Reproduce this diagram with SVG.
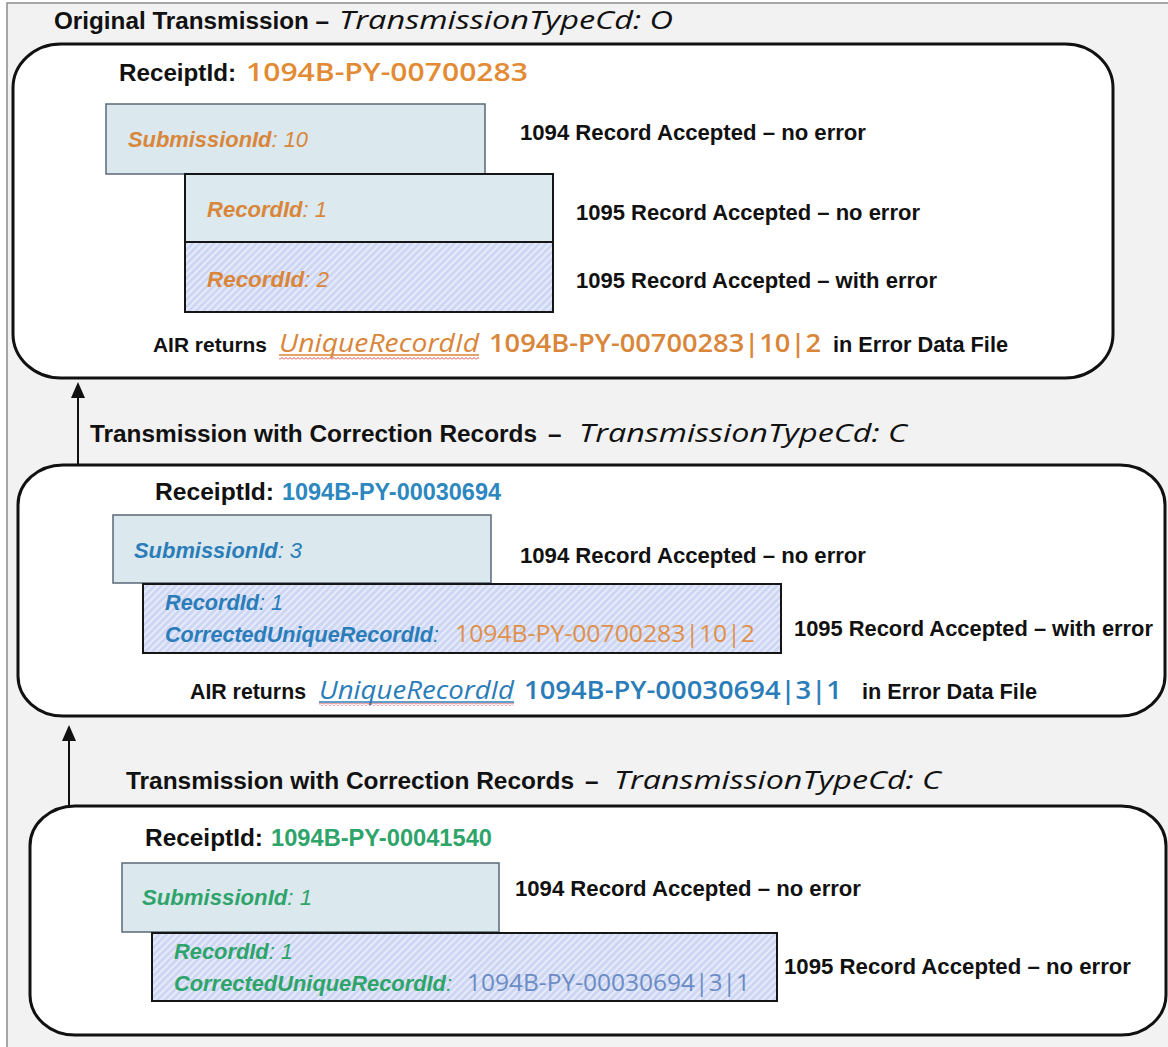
<svg xmlns="http://www.w3.org/2000/svg" width="1168" height="1047" viewBox="0 0 1168 1047">
<defs>
<style>
.b{font-family:"Liberation Sans",Arial,sans-serif;font-weight:bold;fill:#111}
.t{font-size:24.2px}
.s{font-size:22px}
.it{font-family:"Open Sans","Liberation Sans",sans-serif;font-style:italic;font-weight:500;fill:#111;font-size:26px}
.bi{font-family:"Liberation Sans",Arial,sans-serif;font-style:italic;font-weight:bold;font-size:21.9px}
.ri{font-family:"Liberation Sans",Arial,sans-serif;font-style:italic;font-weight:normal}
.num{font-family:"Open Sans","Liberation Sans",sans-serif;font-weight:600;font-size:26px}
.numr{font-family:"Open Sans","Liberation Sans",sans-serif;font-weight:normal;font-size:24px}
.uid{font-family:"Open Sans","Liberation Sans",sans-serif;font-style:italic;font-weight:normal;font-size:25px}
.big{fill:#fff;stroke:#111;stroke-width:3}
.sub{fill:#dbe8ee;stroke:#5a6878;stroke-width:1.5}
.rec{fill:#dce9ee;stroke:#151515;stroke-width:2}
.hat{fill:url(#hatch);stroke:#151515;stroke-width:2}
.or{fill:#d9863a}
.bl{fill:#2a7db8}
.gr{fill:#2ea46a}
.sb{fill:#6b8cc4}
.conn{fill:none;stroke:#111;stroke-width:2}
</style>
<pattern id="hatch" patternUnits="userSpaceOnUse" width="5" height="5" patternTransform="rotate(45)">
<rect width="5" height="5" fill="#cdd6f3"/>
<line x1="1" y1="0" x2="1" y2="5" stroke="#eef1fb" stroke-width="1.6"/>
</pattern>
<pattern id="wave" patternUnits="userSpaceOnUse" width="4" height="3">
<path d="M0,2.5 L2,0.5 L4,2.5" fill="none" stroke="#d23a3a" stroke-width="0.9"/>
</pattern>
</defs>
<rect x="0" y="0" width="1168" height="1047" fill="#fff"/>
<rect x="7" y="3" width="1180" height="1060" fill="#f2f2f2" stroke="#8c8c8c" stroke-width="1.5"/>

<g id="connectors">
<polyline class="conn" points="134,615 78,615 78,385"/>
<path d="M78,382 L85,398 L71,398 Z" fill="#111"/>
<polyline class="conn" points="151,963 69,963 69,728"/>
<path d="M69,725 L76,741 L62,741 Z" fill="#111"/>
</g>

<g id="original-transmission">
<text class="b t" x="54" y="29" textLength="275" lengthAdjust="spacingAndGlyphs">Original Transmission –</text>
<text class="it" x="339" y="29" textLength="334" lengthAdjust="spacingAndGlyphs">TransmissionTypeCd: O</text>
<rect class="big" x="13" y="44" width="1100" height="334" rx="48" ry="44"/>
<text class="b" x="119" y="81" font-size="24.2" textLength="117" lengthAdjust="spacingAndGlyphs">ReceiptId:</text>
<text class="num" x="246" y="81" font-size="27" textLength="282" lengthAdjust="spacingAndGlyphs" style="fill:#e38a34">1094B-PY-00700283</text>
<g id="submission-10">
<rect class="sub" x="106" y="104" width="379" height="70"/>
<text class="bi or" x="128" y="147" textLength="180" lengthAdjust="spacingAndGlyphs">SubmissionId<tspan class="ri">: 10</tspan></text>
</g>
<g id="record-1-original">
<rect class="rec" x="185" y="174" width="368" height="68"/>
<text class="bi or" x="207" y="217" textLength="120" lengthAdjust="spacingAndGlyphs">RecordId<tspan class="ri">: 1</tspan></text>
</g>
<g id="record-2-original">
<rect class="hat" x="185" y="242" width="368" height="70"/>
<text class="bi or" x="207" y="287" textLength="122" lengthAdjust="spacingAndGlyphs">RecordId<tspan class="ri">: 2</tspan></text>
</g>
<text class="b s" x="520" y="140" textLength="346" lengthAdjust="spacingAndGlyphs">1094 Record Accepted – no error</text>
<text class="b s" x="576" y="220" textLength="344" lengthAdjust="spacingAndGlyphs">1095 Record Accepted – no error</text>
<text class="b s" x="576" y="288" font-size="21.9" textLength="361" lengthAdjust="spacingAndGlyphs">1095 Record Accepted – with error</text>
<text class="b" x="153" y="352" font-size="20.9" textLength="114" lengthAdjust="spacingAndGlyphs">AIR returns</text>
<text class="uid or" x="279" y="352" textLength="200" lengthAdjust="spacingAndGlyphs">UniqueRecordId</text>
<line x1="279" y1="355" x2="479" y2="355" stroke="#d9863a" stroke-width="1.5"/>
<rect x="279" y="357" width="200" height="3" fill="url(#wave)"/>
<text class="num or" x="489" y="352" textLength="332" lengthAdjust="spacingAndGlyphs">1094B-PY-00700283|10|2</text>
<text class="b" x="833" y="352" font-size="21.7" textLength="175" lengthAdjust="spacingAndGlyphs">in Error Data File</text>
</g>

<g id="correction-transmission-1">
<text class="b t" x="90" y="442" textLength="447" lengthAdjust="spacingAndGlyphs">Transmission with Correction Records</text>
<text class="b t" x="548" y="442">–</text>
<text class="it" x="579" y="442" textLength="328" lengthAdjust="spacingAndGlyphs">TransmissionTypeCd: C</text>
<rect class="big" x="18" y="465" width="1147" height="251" rx="45" ry="40"/>
<text class="b" x="155" y="500" font-size="24.2" textLength="119" lengthAdjust="spacingAndGlyphs">ReceiptId:</text>
<text class="b" x="282" y="500" font-size="23.3" textLength="219" lengthAdjust="spacingAndGlyphs" style="fill:#2d87c0">1094B-PY-00030694</text>
<g id="submission-3">
<rect class="sub" x="113" y="515" width="378" height="68"/>
<text class="bi bl" x="134" y="558" textLength="168" lengthAdjust="spacingAndGlyphs">SubmissionId<tspan class="ri">: 3</tspan></text>
</g>
<g id="record-1-correction">
<rect class="hat" x="143" y="584" width="638" height="69"/>
<text class="bi bl" x="165" y="610" textLength="118" lengthAdjust="spacingAndGlyphs">RecordId<tspan class="ri">: 1</tspan></text>
<text class="bi bl" x="165" y="642" font-size="21.4" textLength="274" lengthAdjust="spacingAndGlyphs">CorrectedUniqueRecordId<tspan class="ri">:</tspan></text>
<text class="numr" x="455" y="642" textLength="300" lengthAdjust="spacingAndGlyphs" style="fill:#e0904a">1094B-PY-00700283|10|2</text>
</g>
<text class="b s" x="520" y="563" textLength="346" lengthAdjust="spacingAndGlyphs">1094 Record Accepted – no error</text>
<text class="b s" x="794" y="636" font-size="21.8" textLength="359" lengthAdjust="spacingAndGlyphs">1095 Record Accepted – with error</text>
<text class="b" x="190" y="699" font-size="21.2" textLength="116" lengthAdjust="spacingAndGlyphs">AIR returns</text>
<text class="uid bl" x="319" y="699" textLength="195" lengthAdjust="spacingAndGlyphs">UniqueRecordId</text>
<line x1="319" y1="702" x2="514" y2="702" stroke="#2a7db8" stroke-width="1.5"/>
<rect x="319" y="703" width="195" height="3" fill="url(#wave)"/>
<text class="num bl" x="524" y="699" textLength="318" lengthAdjust="spacingAndGlyphs">1094B-PY-00030694|3|1</text>
<text class="b" x="862" y="699" font-size="21.7" textLength="175" lengthAdjust="spacingAndGlyphs">in Error Data File</text>
</g>

<g id="correction-transmission-2">
<text class="b t" x="126" y="789" textLength="448" lengthAdjust="spacingAndGlyphs">Transmission with Correction Records</text>
<text class="b t" x="585" y="789">–</text>
<text class="it" x="614" y="789" textLength="327" lengthAdjust="spacingAndGlyphs">TransmissionTypeCd: C</text>
<rect class="big" x="30" y="806" width="1136" height="229" rx="45" ry="40"/>
<text class="b" x="145" y="846" font-size="24.2" textLength="118" lengthAdjust="spacingAndGlyphs">ReceiptId:</text>
<text class="b gr" x="271" y="846" font-size="23.3" textLength="221" lengthAdjust="spacingAndGlyphs">1094B-PY-00041540</text>
<g id="submission-1">
<rect class="sub" x="122" y="863" width="377" height="69"/>
<text class="bi gr" x="142" y="905" textLength="170" lengthAdjust="spacingAndGlyphs">SubmissionId<tspan class="ri">: 1</tspan></text>
</g>
<g id="record-1-correction-2">
<rect class="hat" x="152" y="933" width="625" height="68"/>
<text class="bi gr" x="174" y="959" textLength="119" lengthAdjust="spacingAndGlyphs">RecordId<tspan class="ri">: 1</tspan></text>
<text class="bi gr" x="174" y="991" font-size="21.7" textLength="278" lengthAdjust="spacingAndGlyphs">CorrectedUniqueRecordId<tspan class="ri">:</tspan></text>
<text class="numr sb" x="467" y="991" textLength="283" lengthAdjust="spacingAndGlyphs">1094B-PY-00030694|3|1</text>
</g>
<text class="b s" x="515" y="896" textLength="346" lengthAdjust="spacingAndGlyphs">1094 Record Accepted – no error</text>
<text class="b s" x="784" y="974" textLength="347" lengthAdjust="spacingAndGlyphs">1095 Record Accepted – no error</text>
</g>
</svg>
